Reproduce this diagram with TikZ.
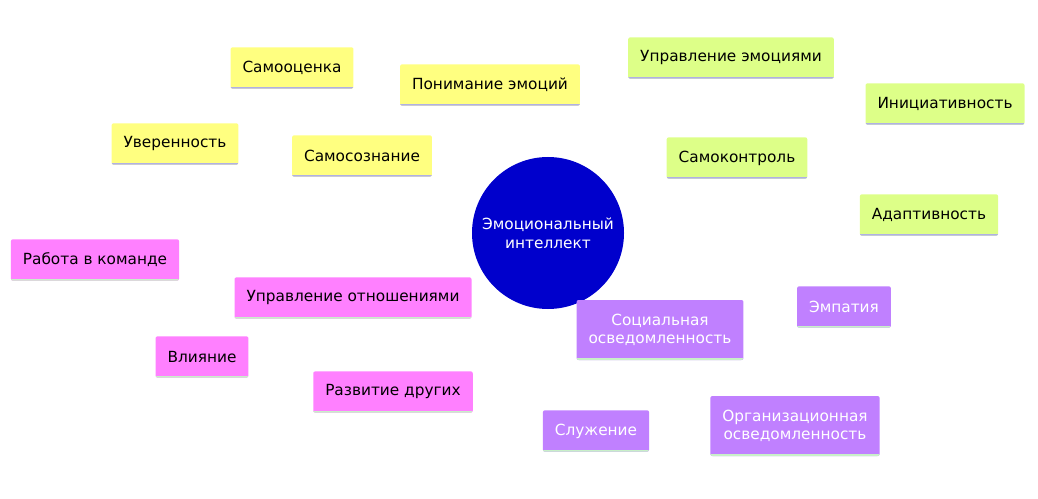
\documentclass[tikz,border=0pt]{standalone}
\usepackage{fontspec}
\setmainfont{DejaVu Sans}
\begin{document}
\begin{tikzpicture}[x=0.75pt,y=-0.75pt,
 box/.style={rounded corners=1.5pt,inner xsep=9pt,minimum height=31pt,font=\fontsize{11.5}{13.5}\selectfont,align=center,
   path picture={\draw[line width=2.5pt,#1] (path picture bounding box.south west) -- (path picture bounding box.south east);}},
 yb/.style={box=lav,fill=yel},
 gb/.style={box=lav,fill=grn},
 pb/.style={box=lgr,fill=pnk},
 vb/.style={box=lgr,fill=vio,text=white},
 br/.style={line width=10pt}]
\definecolor{yel}{RGB}{255,255,128}
\definecolor{grn}{RGB}{221,255,136}
\definecolor{pnk}{RGB}{255,128,255}
\definecolor{vio}{RGB}{192,128,255}
\definecolor{lav}{RGB}{176,176,230}
\definecolor{lgr}{RGB}{200,240,200}
\useasboundingbox (0,0) rectangle (1038,499);
\node[circle,fill={rgb,255:red,0;green,0;blue,204},minimum size=114pt,text=white,align=center,font=\fontsize{11.5}{14}\selectfont] (c) at (548,233) {Эмоциональный\\интеллект};
\begin{scope}[on background layer/.style={}]
\end{scope}
% nodes
\node[yb] (s) at (362,156) {Самосознание};
\node[yb] (s1) at (175,144) {Уверенность};
\node[yb] (s2) at (292,68) {Самооценка};
\node[yb] (s3) at (490,85) {Понимание эмоций};
\node[gb] (k) at (737,158) {Самоконтроль};
\node[gb] (k1) at (731,58) {Управление эмоциями};
\node[gb] (k2) at (945,104) {Инициативность};
\node[gb] (k3) at (929,215) {Адаптивность};
\node[pb] (r) at (353,298) {Управление отношениями};
\node[pb] (r1) at (95,260) {Работа в команде};
\node[pb] (r2) at (202,357) {Влияние};
\node[pb] (r3) at (393,392) {Развитие других};
\node[vb,minimum height=45pt] (o) at (660,330) {Социальная\\осведомленность};
\node[vb] (o1) at (844,307) {Эмпатия};
\node[vb] (o2) at (596,431) {Служение};
\node[vb,minimum height=45pt] (o3) at (795,426) {Организационная\\осведомленность};
% branches behind
\begin{scope}[br]
\begin{pgfinterruptboundingbox}\end{pgfinterruptboundingbox}
\end{scope}
\end{tikzpicture}
\end{document}
